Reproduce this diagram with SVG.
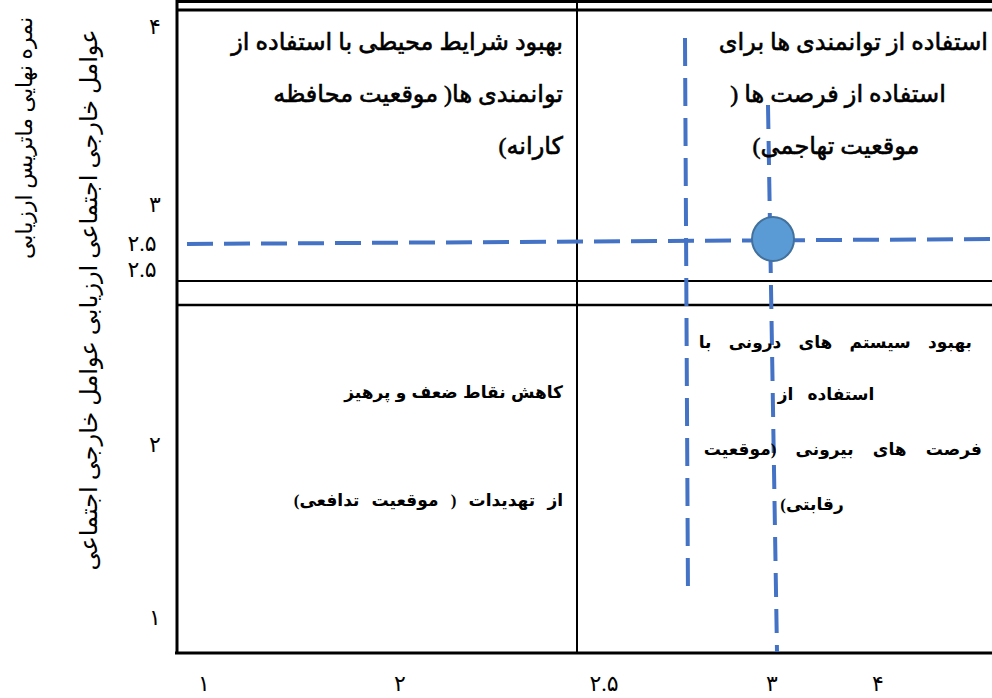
<svg xmlns="http://www.w3.org/2000/svg" width="992" height="698" viewBox="0 0 992 698">
<style>
.frame{stroke:#000;fill:none}
.dash{stroke:#4472C4;stroke-width:4;fill:none}
.q{font-family:"Liberation Serif","DejaVu Sans",serif;fill:#000;direction:rtl}
.qt{font-size:24px;font-weight:normal;stroke:#000;stroke-width:0.6}
.qb{font-size:17px;font-weight:bold}
.ax{font-family:"Liberation Serif","DejaVu Sans",serif;font-size:22px;fill:#000;text-anchor:middle}
.yt{font-family:"Liberation Serif","DejaVu Sans",serif;fill:#000;direction:rtl;text-anchor:middle}
</style>
<rect width="992" height="698" fill="#fff"/>
<g id="frame">
<line class="frame" x1="177" y1="0" x2="177" y2="654" stroke-width="3"/>
<line class="frame" x1="175" y1="653" x2="992" y2="653" stroke-width="3"/>
<line class="frame" x1="177" y1="1.5" x2="992" y2="1.5" stroke-width="3"/>
<line class="frame" x1="177" y1="10" x2="992" y2="10" stroke-width="3"/>
<line class="frame" x1="577" y1="0" x2="577" y2="653" stroke-width="2"/>
<line class="frame" x1="177" y1="281" x2="992" y2="281" stroke-width="2"/>
<line class="frame" x1="177" y1="305" x2="992" y2="305" stroke-width="2.5"/>
</g>
<g id="connectors">
<line class="dash" x1="187" y1="244" x2="992" y2="239" stroke-dasharray="26 11"/>
<line class="dash" x1="685" y1="38" x2="688" y2="598" stroke-dasharray="28 12"/>
<line class="dash" x1="768" y1="105" x2="777" y2="652" stroke-dasharray="24 12"/>
</g>
<g id="point">
<ellipse cx="773" cy="239" rx="21" ry="22" fill="#5B9BD5" stroke="#41719C" stroke-width="2"/>
</g>
<g id="q-top-left">
<text class="q qt" x="563" y="50" text-anchor="start">بهبود شرایط محیطی با استفاده از</text>
<text class="q qt" x="563" y="102" text-anchor="start">توانمندی ها( موقعیت محافظه</text>
<text class="q qt" x="563" y="154" text-anchor="start">کارانه)</text>
</g>
<g id="q-top-right">
<text class="q qt" x="988" y="50" text-anchor="start">استفاده از توانمندی ها برای</text>
<text class="q qt" x="838" y="102" text-anchor="middle">استفاده از فرصت ها (</text>
<text class="q qt" x="836" y="154" text-anchor="middle">موقعیت تهاجمی)</text>
</g>
<g id="q-bottom-left">
<text class="q qb" x="563" y="398" text-anchor="start" word-spacing="1">کاهش نقاط ضعف و پرهیز</text>
<text class="q qb" x="563" y="506" text-anchor="start" word-spacing="8">از تهدیدات ( موقعیت تدافعی)</text>
</g>
<g id="q-bottom-right">
<text class="q qb" x="972" y="348" text-anchor="start" word-spacing="13">بهبود سیستم های درونی با</text>
<text class="q qb" x="826" y="400" text-anchor="middle" word-spacing="10">استفاده از</text>
<text class="q qb" x="982" y="455" text-anchor="start" word-spacing="15">فرصت های بیرونی (موقعیت</text>
<text class="q qb" x="812" y="510" text-anchor="middle">رقابتی)</text>
</g>
<g id="y-axis">
<text class="ax" x="155" y="34" font-size="24">۴</text>
<text class="ax" x="155" y="212" font-size="24">۳</text>
<text class="ax" x="142" y="251" font-size="16">۲.۵</text>
<text class="ax" x="142" y="277" font-size="16">۲.۵</text>
<text class="ax" x="155" y="452">۲</text>
<text class="ax" x="155" y="625">۱</text>
<text class="yt" font-size="22" transform="translate(32 138) rotate(-90)">نمره نهایی ماتریس ارزیابی</text>
<text class="yt" font-size="24" transform="translate(97 300) rotate(-90)">عوامل خارجی اجتماعی ارزیابی عوامل خارجی اجتماعی</text>
</g>
<g id="x-axis">
<text class="ax" x="204" y="691">۱</text>
<text class="ax" x="400" y="691">۲</text>
<text class="ax" x="604" y="691">۲.۵</text>
<text class="ax" x="772" y="691">۳</text>
<text class="ax" x="878" y="691">۴</text>
</g>
</svg>
